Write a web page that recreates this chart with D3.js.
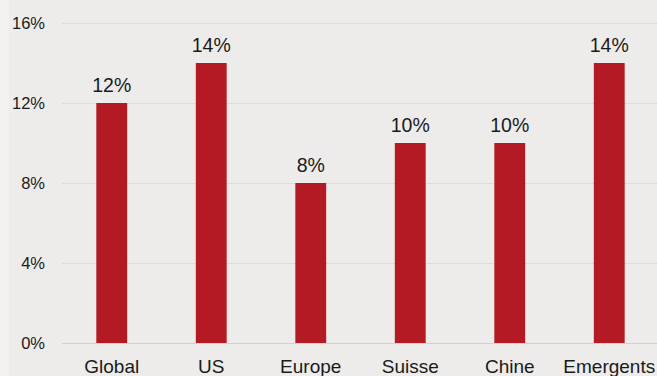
<!DOCTYPE html>
<html>
<head>
<script src="https://d3js.org/d3.v7.min.js"></script>
<style>
  body { margin: 0; background: #edecea; }
  svg { display: block; font-family: "Liberation Sans", Arial, sans-serif; }
</style>
</head>
<body>
<script>
  const w = 657
  const h = 376
  const categories = ["Global", "US", "Europe", "Suisse", "Chine", "Emergents"]
  const values = [12, 14, 8, 10, 10, 14]
  const yTicks = [0, 4, 8, 12, 16]

  const svg = d3.select("body").append("svg")
    .attr("width", w)
    .attr("height", h)

  svg.append("rect").attr("width", w).attr("height", h).attr("fill", "#edecea")
  svg.append("rect").attr("width", 9).attr("height", h).attr("fill", "#f3f2f0")

  const x = d3.scaleBand().domain(categories).range([62, 659]).paddingInner(0.69).paddingOuter(0.345)
  const y = d3.scaleLinear().domain([0, 16]).range([343, 23])

  // gridlines
  svg.selectAll(".grid")
    .data(yTicks)
    .enter()
    .append("line")
    .attr("x1", 62)
    .attr("x2", w)
    .attr("y1", d => y(d) + 0.5)
    .attr("y2", d => y(d) + 0.5)
    .attr("stroke", d => d === 0 ? "#d2d1cf" : "#dcdbd9")
    .attr("stroke-width", 1)

  // y labels
  svg.selectAll(".ylab")
    .data(yTicks)
    .enter()
    .append("text")
    .attr("x", 45)
    .attr("y", d => y(d) + 6)
    .attr("text-anchor", "end")
    .attr("font-size", 16.5)
    .attr("fill", "#1a1a1a")
    .text(d => d + "%")

  // bars
  svg.selectAll(".bar")
    .data(values)
    .enter()
    .append("rect")
    .attr("x", (d, i) => x(categories[i]))
    .attr("width", x.bandwidth())
    .attr("y", d => y(d))
    .attr("height", d => y(0) - y(d))
    .attr("fill", "#b31a24")

  // value labels
  svg.selectAll(".vlab")
    .data(values)
    .enter()
    .append("text")
    .attr("x", (d, i) => x(categories[i]) + x.bandwidth() / 2)
    .attr("y", d => y(d) - 11)
    .attr("text-anchor", "middle")
    .attr("font-size", 19.5)
    .attr("fill", "#1a1a1a")
    .text(d => d + "%")

  // category labels
  svg.selectAll(".xlab")
    .data(categories)
    .enter()
    .append("text")
    .attr("x", d => x(d) + x.bandwidth() / 2)
    .attr("y", 373)
    .attr("text-anchor", "middle")
    .attr("font-size", 19)
    .attr("fill", "#1a1a1a")
    .text(d => d)
</script>
</body>
</html>
